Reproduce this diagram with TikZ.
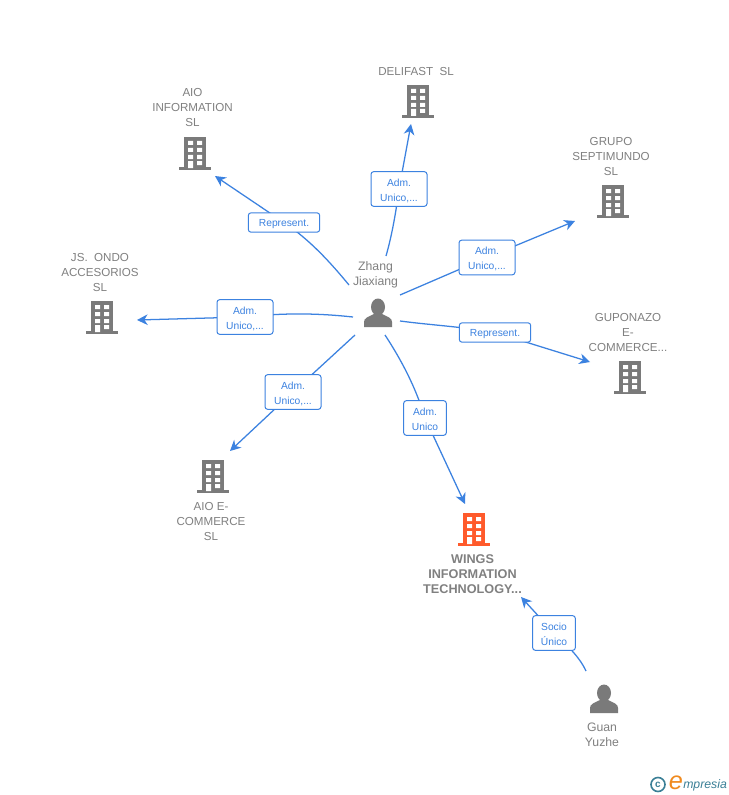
\documentclass[tikz,border=0pt]{standalone}
\usepackage{fontspec}
\setmainfont{Liberation Sans}
\usetikzlibrary{arrows.meta,backgrounds}
\definecolor{icongrey}{HTML}{7A7A7A}
\definecolor{textgrey}{HTML}{808080}
\definecolor{linkblue}{HTML}{3C82E0}
\definecolor{hiorange}{HTML}{FF5A2B}
\definecolor{logoteal}{HTML}{3A7F96}
\definecolor{logoorange}{HTML}{F08A1E}
\tikzset{
  px/.style={x=0.75pt,y=-0.75pt},
  building/.pic={
    \fill[pic actions] (-11,-17) rectangle (11,15);
    \fill[pic actions] (-16,13) rectangle (16,16);
    \fill[white] (-7,-13) rectangle (-2,-9) (2,-13) rectangle (7,-9)
                 (-7,-6) rectangle (-2,-2) (2,-6) rectangle (7,-2)
                 (-7,1) rectangle (-2,5) (2,1) rectangle (7,5)
                 (-7,7) rectangle (-2,14) (2,7) rectangle (7,11);
  },
  personicon/.pic={
    \fill[icongrey] (0,-7) ellipse (7 and 8.5);
    \fill[icongrey] (-14,13) -- (-14,8) .. controls (-14,4) and (-10,3) .. (-4,0) -- (4,0)
       .. controls (10,3) and (14,4) .. (14,8) -- (14,13) -- cycle;
  },
  caption/.style={font=\fontsize{8.7pt}{11.25pt}\selectfont,text=textgrey,align=center,inner sep=0pt},
  boldcaption/.style={font=\fontsize{9.5pt}{11.25pt}\selectfont\bfseries,text=textgrey,align=center,inner sep=0pt},
  namecaption/.style={font=\fontsize{9.2pt}{11.25pt}\selectfont,text=textgrey,align=center,inner sep=0pt},
  linkbox/.style={draw=linkblue,fill=white,rounded corners=2pt,line width=0.75pt,
    font=\fontsize{7.7pt}{11.25pt}\selectfont,text=linkblue,align=center,inner sep=0pt,anchor=center},
  twolines/.style={linkbox,minimum height=26pt,text height=19pt,text depth=1pt},
  oneline/.style={linkbox,minimum width=53.5pt,minimum height=14.5pt,text height=7pt,text depth=1pt},
  link/.style={draw=linkblue,line width=0.95pt},
  linkarrow/.style={link,-{Stealth[length=8pt,width=8pt,inset=2.5pt]}},
}
\begin{document}
\begin{tikzpicture}[px]
\path[use as bounding box] (0,0) rectangle (728,795);
\begin{scope}[on background layer]
\fill[white] (0,0) rectangle (728,795);
\end{scope}

% icons
\pic[icongrey] (bdelifast) at (418,102) {building};
\pic[icongrey] (bainfo) at (195,154) {building};
\pic[icongrey] (bgrupo) at (613,202) {building};
\pic[icongrey] (bjs) at (102,318) {building};
\pic[icongrey] (bgupo) at (630,378) {building};
\pic[icongrey] (baioe) at (213,477) {building};
\pic[hiorange] (bwings) at (474,530) {building};
\pic (pzhang) at (378,314) {personicon};
\pic (pguan) at (604,700) {personicon};

% captions
\node[caption] (tdelifast) at (416,72) {DELIFAST\ \ SL};
\node[caption] (tainfo) at (192.5,107.5) {AIO\\INFORMATION\\SL};
\node[caption] (tgrupo) at (611,156.5) {GRUPO\\SEPTIMUNDO\\SL};
\node[caption] (tjs) at (100,272.5) {JS.\ \ ONDO\\ACCESORIOS\\SL};
\node[caption] (tgupo) at (628,332.5) {GUPONAZO\\E-\\COMMERCE...};
\node[caption] (taioe) at (211,522) {AIO E-\\COMMERCE\\SL};
\node[boldcaption] (twings) at (472.5,574) {WINGS\\INFORMATION\\TECHNOLOGY...};
\node[namecaption] (tzhang) at (375.5,274.5) {Zhang\\Jiaxiang};
\node[namecaption] (tguan) at (602,735) {Guan\\Yuzhe};

% link labels
\node[twolines,minimum width=42pt] (ldelifast) at (399,189) {Adm.\\Unico,...};
\node[oneline] (lainfo) at (284,222.5) {Represent.};
\node[twolines,minimum width=42pt] (lgrupo) at (487,257.5) {Adm.\\Unico,...};
\node[twolines,minimum width=42pt] (ljs) at (245,317) {Adm.\\Unico,...};
\node[oneline] (lgupo) at (495,332.5) {Represent.};
\node[twolines,minimum width=42pt] (laioe) at (293,392) {Adm.\\Unico,...};
\node[twolines,minimum width=32pt] (lwings) at (425,418) {Adm.\\Unico};
\node[twolines,minimum width=32pt] (lguan) at (554,633) {Socio\\Único};

% free ends
\coordinate (sdelifast) at (386,256);
\coordinate (edelifast) at (411,124);
\coordinate (sainfo) at (349,285);
\coordinate (eainfo) at (215,176);
\coordinate (sgrupo) at (400,295);
\coordinate (egrupo) at (575,221);
\coordinate (sjs) at (353,317);
\coordinate (ejs) at (137,320);
\coordinate (sgupo) at (400,321);
\coordinate (egupo) at (590,362);
\coordinate (saioe) at (355,335);
\coordinate (eaioe) at (230,451);
\coordinate (swings) at (385,335);
\coordinate (ewings) at (465,504);
\coordinate (sguan) at (586,671);
\coordinate (eguan) at (521,597);

\begin{scope}[on background layer]
\draw[link] (sdelifast) .. controls (392,235) and (396,212) .. (ldelifast.center);
\draw[linkarrow] (ldelifast.center) -- (edelifast);
\draw[link] (sainfo) .. controls (330,262) and (310,240) .. (lainfo.center);
\draw[linkarrow] (lainfo.center) -- (eainfo);
\draw[link] (sgrupo) -- (lgrupo.center);
\draw[linkarrow] (lgrupo.center) -- (egrupo);
\draw[link] (sjs) .. controls (325,314) and (290,312) .. (ljs.center);
\draw[linkarrow] (ljs.center) -- (ejs);
\draw[link] (sgupo) .. controls (430,325) and (465,327) .. (lgupo.center);
\draw[linkarrow] (lgupo.center) -- (egupo);
\draw[link] (saioe) -- (laioe.center);
\draw[linkarrow] (laioe.center) -- (eaioe);
\draw[link] (swings) .. controls (400,358) and (415,385) .. (lwings.center);
\draw[linkarrow] (lwings.center) -- (ewings);
\draw[link] (sguan) .. controls (580,658) and (570,648) .. (lguan.center);
\draw[linkarrow] (lguan.center) -- (eguan);
\end{scope}

% logo
\node[draw=logoteal,line width=1.2pt,circle,inner sep=0pt,minimum size=10.5pt,text=logoteal,font=\fontsize{7.5pt}{7.5pt}\selectfont\bfseries] (logoc) at (658,784.5) {c};
\node[text=logoorange,font=\fontsize{19pt}{19pt}\selectfont\itshape,inner sep=0pt] (logoe) at (676,783) {e};
\node[text=logoteal,font=\fontsize{9.2pt}{9.2pt}\selectfont\itshape,inner sep=0pt,anchor=west] (logot) at (683,785) {mpresia};
\end{tikzpicture}
\end{document}
